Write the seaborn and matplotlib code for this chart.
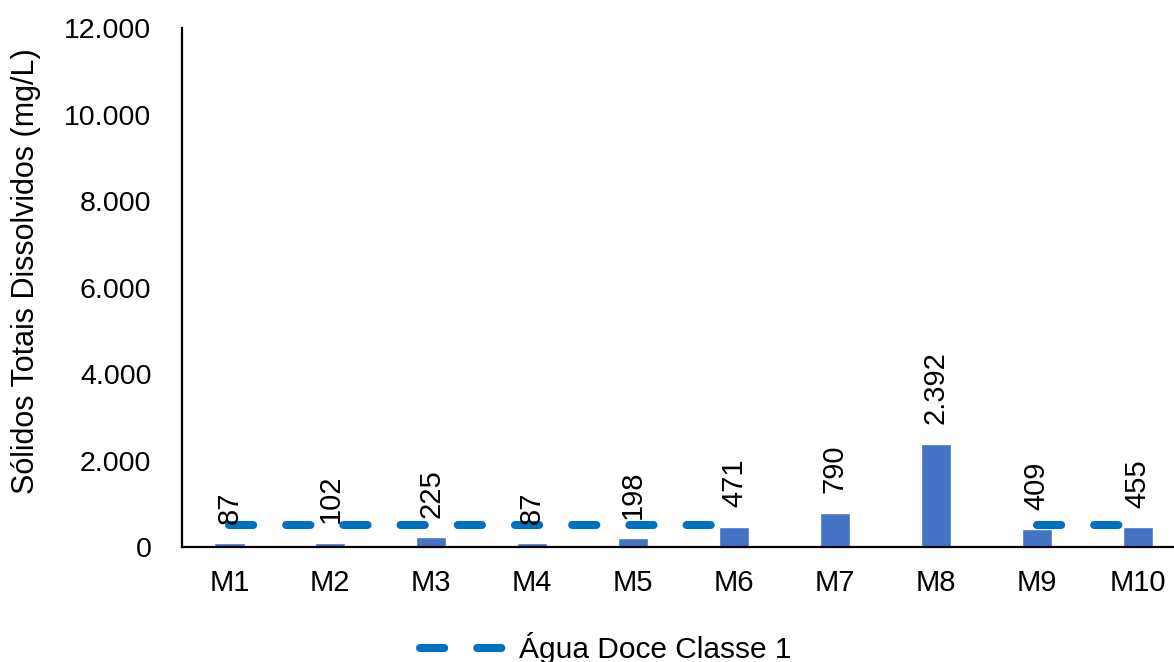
import numpy as np
import pandas as pd
import seaborn as sns
import matplotlib.pyplot as plt

# data
pontos = ["M1", "M2", "M3", "M4", "M5", "M6", "M7", "M8", "M9", "M10"]
std_valores = [87, 102, 225, 87, 198, 471, 790, 2392, 409, 455]
limite_classe1 = [500, 500, 500, 500, 500, 500, np.nan, np.nan, 500, 500]
yticks = [0, 2000, 4000, 6000, 8000, 10000, 12000]

df = pd.DataFrame({"ponto": pontos, "std": std_valores})

sns.set_style("white")
plt.rcParams["font.family"] = ["Liberation Sans", "DejaVu Sans"]
plt.rcParams["text.color"] = "black"
plt.rcParams["xtick.color"] = "black"
plt.rcParams["ytick.color"] = "black"
plt.rcParams["axes.labelcolor"] = "black"

fig = plt.figure(figsize=(11.74, 6.62), dpi=100)
ax = fig.add_axes([0.155, 0.1737, 0.845, 0.784])

sns.barplot(data=df, x="ponto", y="std", color="#4472C4", width=0.3,
            saturation=1, ax=ax)

# limit line (gaps where the limit is missing)
ax.plot(range(len(pontos)), limite_classe1, color="#0070C0", lw=5.8,
        dashes=(3.0, 4.1), dash_capstyle="round", solid_capstyle="round",
        label="Água Doce Classe 1")

# data labels
for i, v in enumerate(std_valores):
    ax.annotate(f"{v:,}".replace(",", "."), (i, v), xytext=(0, 14),
                textcoords="offset points", rotation=90, ha="center",
                va="bottom", fontsize=21)

ax.set_ylim(0, 12000)
ax.set_yticks(yticks)
ax.set_yticklabels([f"{t:,}".replace(",", ".") for t in yticks])
ax.set_xlim(-0.47, 9.36)
ax.set_xlabel("")
ax.set_ylabel("Sólidos Totais Dissolvidos (mg/L)", fontsize=22)
ax.yaxis.set_label_coords(-0.142, 0.532)
ax.tick_params(axis="y", length=0, pad=22, labelsize=20.5)
ax.tick_params(axis="x", length=0, pad=16, labelsize=21)

sns.despine(ax=ax, top=True, right=True)
for s in ["left", "bottom"]:
    ax.spines[s].set_color("black")
    ax.spines[s].set_linewidth(1.6)

fig.legend(loc="center", bbox_to_anchor=(0.516, 0.021), frameon=False,
           fontsize=21.5, handlelength=3.0, handletextpad=0.3)

fig.savefig("out.png", dpi=100)
